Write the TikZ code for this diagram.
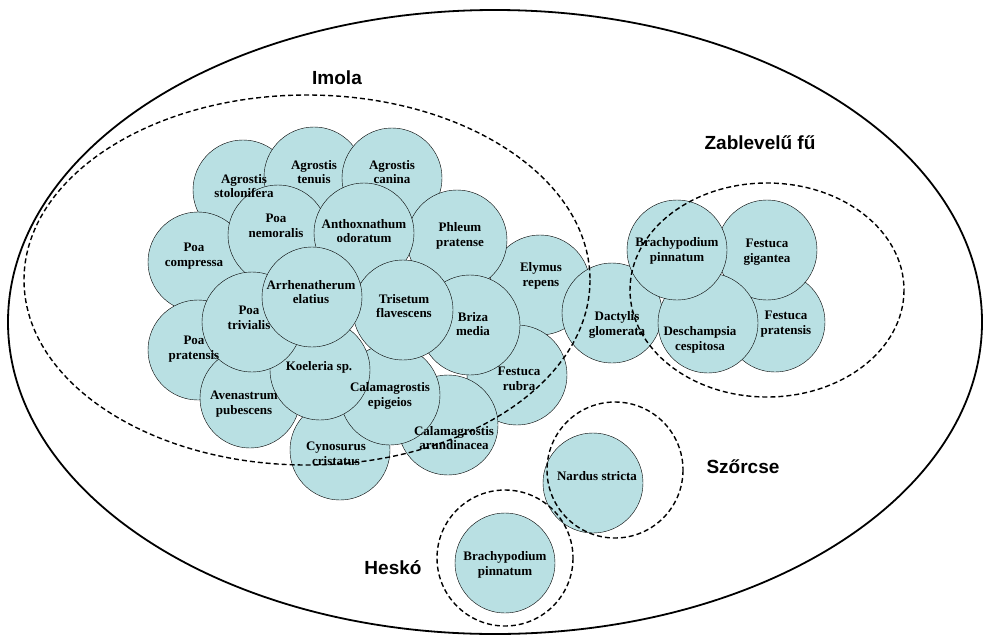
\documentclass[tikz,border=0pt]{standalone}
\usepackage{fontspec}
\setmainfont{Liberation Serif}
\newfontfamily\titlefont{Liberation Sans}
\definecolor{grassblue}{HTML}{B9E0E3}
\tikzset{
    species/.style={circle, draw=black, fill=grassblue, minimum size=100pt, inner sep=0pt},
    specieslabel/.style={align=center, font=\bfseries\fontsize{13}{14.5}\selectfont},
    group/.style={draw=black, line width=1.4pt, dash pattern=on 5pt off 3pt},
    grouplabel/.style={font=\titlefont\bfseries\fontsize{19}{22}\selectfont},
}
\def\specieslist{
    243/190/stol/244/186/{Agrostis\\stolonifera},
    314/177/ten/314/172/{Agrostis\\tenuis},
    392/178/can/392/172/{Agrostis\\canina},
    540/285/ely/541/276/{Elymus\\repens},
    457/240/phl/460/236/{Phleum\\pratense},
    198/262/pcom/194/256/{Poa\\compressa},
    198/350/ppra/194/349/{Poa\\pratensis},
    517/375/frub/519/379/{Festuca\\rubra},
    448/425/caru/454/438/{Calamagrostis\\arundinacea},
    340/450/cyn/336/454/{Cynosurus\\cristatus},
    250/398/ave/244/404/{Avenastrum\\pubescens},
    470/325/bri/473/324/{Briza\\media},
    390/395/cepi/390/396/{Calamagrostis\\epigeios},
    278/235/pnem/276/226/{Poa\\nemoralis},
    364/233/ant/364/231/{Anthoxnathum\\odoratum},
    320/370/koe/319/367/{Koeleria sp.},
    252/322/ptri/249/318/{Poa\\trivialis},
    403/310/tri/404/306/{Trisetum\\flavescens},
    312/297/arr/311/292/{Arrhenatherum\\elatius},
    612/313/dac/617/325/{Dactylis\\glomerata},
    775/322/fpra/786/324/{Festuca\\pratensis},
    767/250/fgig/767/252/{Festuca\\gigantea},
    708/323/des/700/340/{Deschampsia\\cespitosa},
    677/250/bra/677/251/{Brachypodium\\pinnatum},
    593/483/nar/597/476/{Nardus stricta},
    505/563/brah/505/565/{Brachypodium\\pinnatum}}
\begin{document}
\begin{tikzpicture}[x=1pt, y=-1pt]
    \useasboundingbox (0,0) rectangle (990,640);
    \draw[line width=1.8pt] (495,322) ellipse [x radius=487, y radius=312];
    % circles first, names after
    \foreach \x/\y/\n/\lx/\ly/\t in \specieslist
        \node[species] (\n) at (\x,\y) {};
    \foreach \x/\y/\n/\lx/\ly/\t in \specieslist
        \node[specieslabel] (\n-txt) at (\lx,\ly) {\t};
    % groups
    \draw[group] (307,280) ellipse [x radius=283, y radius=185];
    \draw[group] (767,290) ellipse [x radius=137, y radius=107];
    \draw[group] (615,470) circle [radius=68];
    \draw[group] (505,558) circle [radius=68];
    \node[grouplabel] (imola) at (337,78) {Imola};
    \node[grouplabel] (zab) at (760,143) {Zablevelű fű};
    \node[grouplabel] (szo) at (743,467) {Szőrcse};
    \node[grouplabel] (hes) at (393,568) {Heskó};
\end{tikzpicture}
\end{document}
